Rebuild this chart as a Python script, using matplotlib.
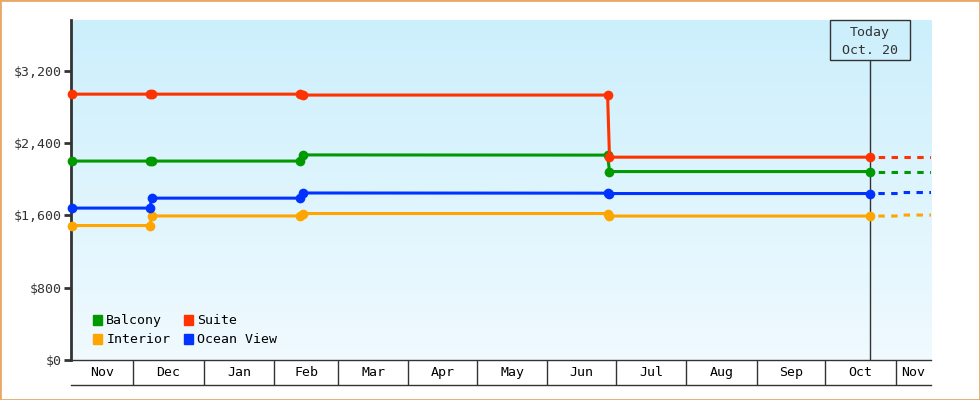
import numpy as np
import pandas as pd
import matplotlib.pyplot as plt
import matplotlib.dates as mdates
from matplotlib.patches import Patch, Rectangle
from matplotlib.colors import LinearSegmentedColormap
from matplotlib.transforms import ScaledTranslation

plt.rcParams['font.family'] = ['DejaVu Sans Mono']

# price history (one value per change date, per cabin type)
dates = pd.to_datetime(["2014-11-04 00:00", "2014-12-08 08:00", "2014-12-09 08:00",
                        "2015-02-12 12:00", "2015-02-13 12:00", "2015-06-27 12:00",
                        "2015-06-28 08:00", "2015-10-20 20:00"])
balcony = [2200, 2200, 2200, 2200, 2268, 2266, 2084, 2084]
suite = [2940, 2940, 2940, 2940, 2930, 2930, 2243, 2243]
ocean_view = [1680, 1680, 1790, 1790, 1847, 1845, 1841, 1841]
interior = [1487, 1487, 1593, 1593, 1620, 1620, 1592, 1592]

# projected prices after today
forecast_dates = pd.to_datetime(["2015-10-20 20:00", "2015-11-02 12:00",
                                 "2015-11-03 00:00", "2015-11-18 00:00"])
balcony_fc = [2084, 2084, 2084, 2084]
suite_fc = [2243, 2243, 2243, 2243]
ocean_view_fc = [1841, 1841, 1852, 1852]
interior_fc = [1592, 1592, 1603, 1603]

series = [
    ("Interior", interior, interior_fc, "#FFA500"),
    ("Ocean View", ocean_view, ocean_view_fc, "#0033FF"),
    ("Balcony", balcony, balcony_fc, "#009900"),
    ("Suite", suite, suite_fc, "#FF3300"),
]

today = pd.Timestamp("2015-10-20 20:00")
today_label = "Today\nOct. 20"
x_start = pd.Timestamp("2014-11-03 18:00")
x_end = pd.Timestamp("2015-11-16 14:00")
y_ticks = [0, 800, 1600, 2400, 3200]
month_starts = pd.date_range("2014-12-01", "2015-11-01", freq="MS")

dark = "#333333"

fig = plt.figure(figsize=(9.8, 4), dpi=100)
ax = fig.add_axes([71 / 980, 40 / 400, 860 / 980, 340 / 400])

# background gradient
cmap = LinearSegmentedColormap.from_list("bg", ["#CCEFFC", "#F0FAFF"])
ax.imshow(np.linspace(0, 1, 256).reshape(-1, 1), cmap=cmap, extent=(0, 1, 0, 1),
          transform=ax.transAxes, aspect="auto", zorder=0)

for name, vals, fc, color in series:
    ax.plot(forecast_dates, fc, color=color, lw=2.2, linestyle=(1.5, (2.1, 2.1)),
            dash_capstyle="butt", zorder=3)
    ax.plot(dates, vals, color=color, lw=2.2, marker="o", ms=7, mew=0,
            zorder=4, clip_on=False)

ax.set_xlim(x_start, x_end)
ax.set_ylim(0, 3760)

# axes styling
for s in ["top", "right"]:
    ax.spines[s].set_visible(False)
ax.spines["left"].set_color(dark)
ax.spines["left"].set_linewidth(2)
ax.spines["bottom"].set_color(dark)
ax.spines["bottom"].set_linewidth(1)
ax.set_yticks(y_ticks)
ax.set_yticklabels([f"${v:,.0f}" for v in y_ticks])
ax.tick_params(axis="y", length=5, width=2, color=dark, labelsize=9.5,
               labelcolor=dark, pad=2)
ax.set_xticks([])

# month band under the axis
trans = ax.get_xaxis_transform()
band = 25 / 340
x0, x1 = mdates.date2num(x_start), mdates.date2num(x_end)
starts = mdates.date2num(month_starts)
ax.vlines(starts, -band, 0, transform=trans, color=dark, lw=1, clip_on=False)
ax.plot([x0, x1], [-band, -band], transform=trans, color=dark, lw=1, clip_on=False)
edges = [x0] + list(starts) + [x1]
names = ["Nov"] + [d.strftime("%b") for d in month_starts]
for a, b, name in zip(edges[:-1], edges[1:], names):
    ax.text((a + b) / 2, -band / 2, name, transform=trans, ha="center",
            va="center", fontsize=9.5, color="black")

# today marker
t_num = mdates.date2num(today)
box_h = 40 / 340
ax.vlines(t_num, 0, 1 - box_h, transform=trans, color=dark, lw=1, zorder=2)
box_trans = fig.dpi_scale_trans + ScaledTranslation(t_num, 1.0, trans)
ax.add_patch(Rectangle((-0.4, -0.4), 0.8, 0.4, transform=box_trans, fill=False,
                       ec=dark, lw=1, clip_on=False, zorder=5))
for i, line in enumerate(today_label.split("\n")):
    ax.annotate(line, xy=(t_num, 1), xycoords=trans, xytext=(0, -8.8 - 13 * i),
                textcoords="offset points", ha="center", va="center",
                fontsize=9.5, color=dark)

# legend
handles = [Patch(color=c, label=n) for n, _, _, c in
           [series[2], series[0], series[3], series[1]]]
ax.legend(handles=handles, ncol=2, loc="lower left", bbox_to_anchor=(0.025, 0.04),
          frameon=False, fontsize=9.5, handlelength=0.75, handleheight=0.75,
          handletextpad=0.3, columnspacing=1.0, labelspacing=0.45,
          borderpad=0, borderaxespad=0)

fig.add_artist(Rectangle((0, 0), 1, 1, transform=fig.transFigure, fill=False,
                         ec="#E8A868", lw=2))

fig.savefig("out.png", dpi=100)
